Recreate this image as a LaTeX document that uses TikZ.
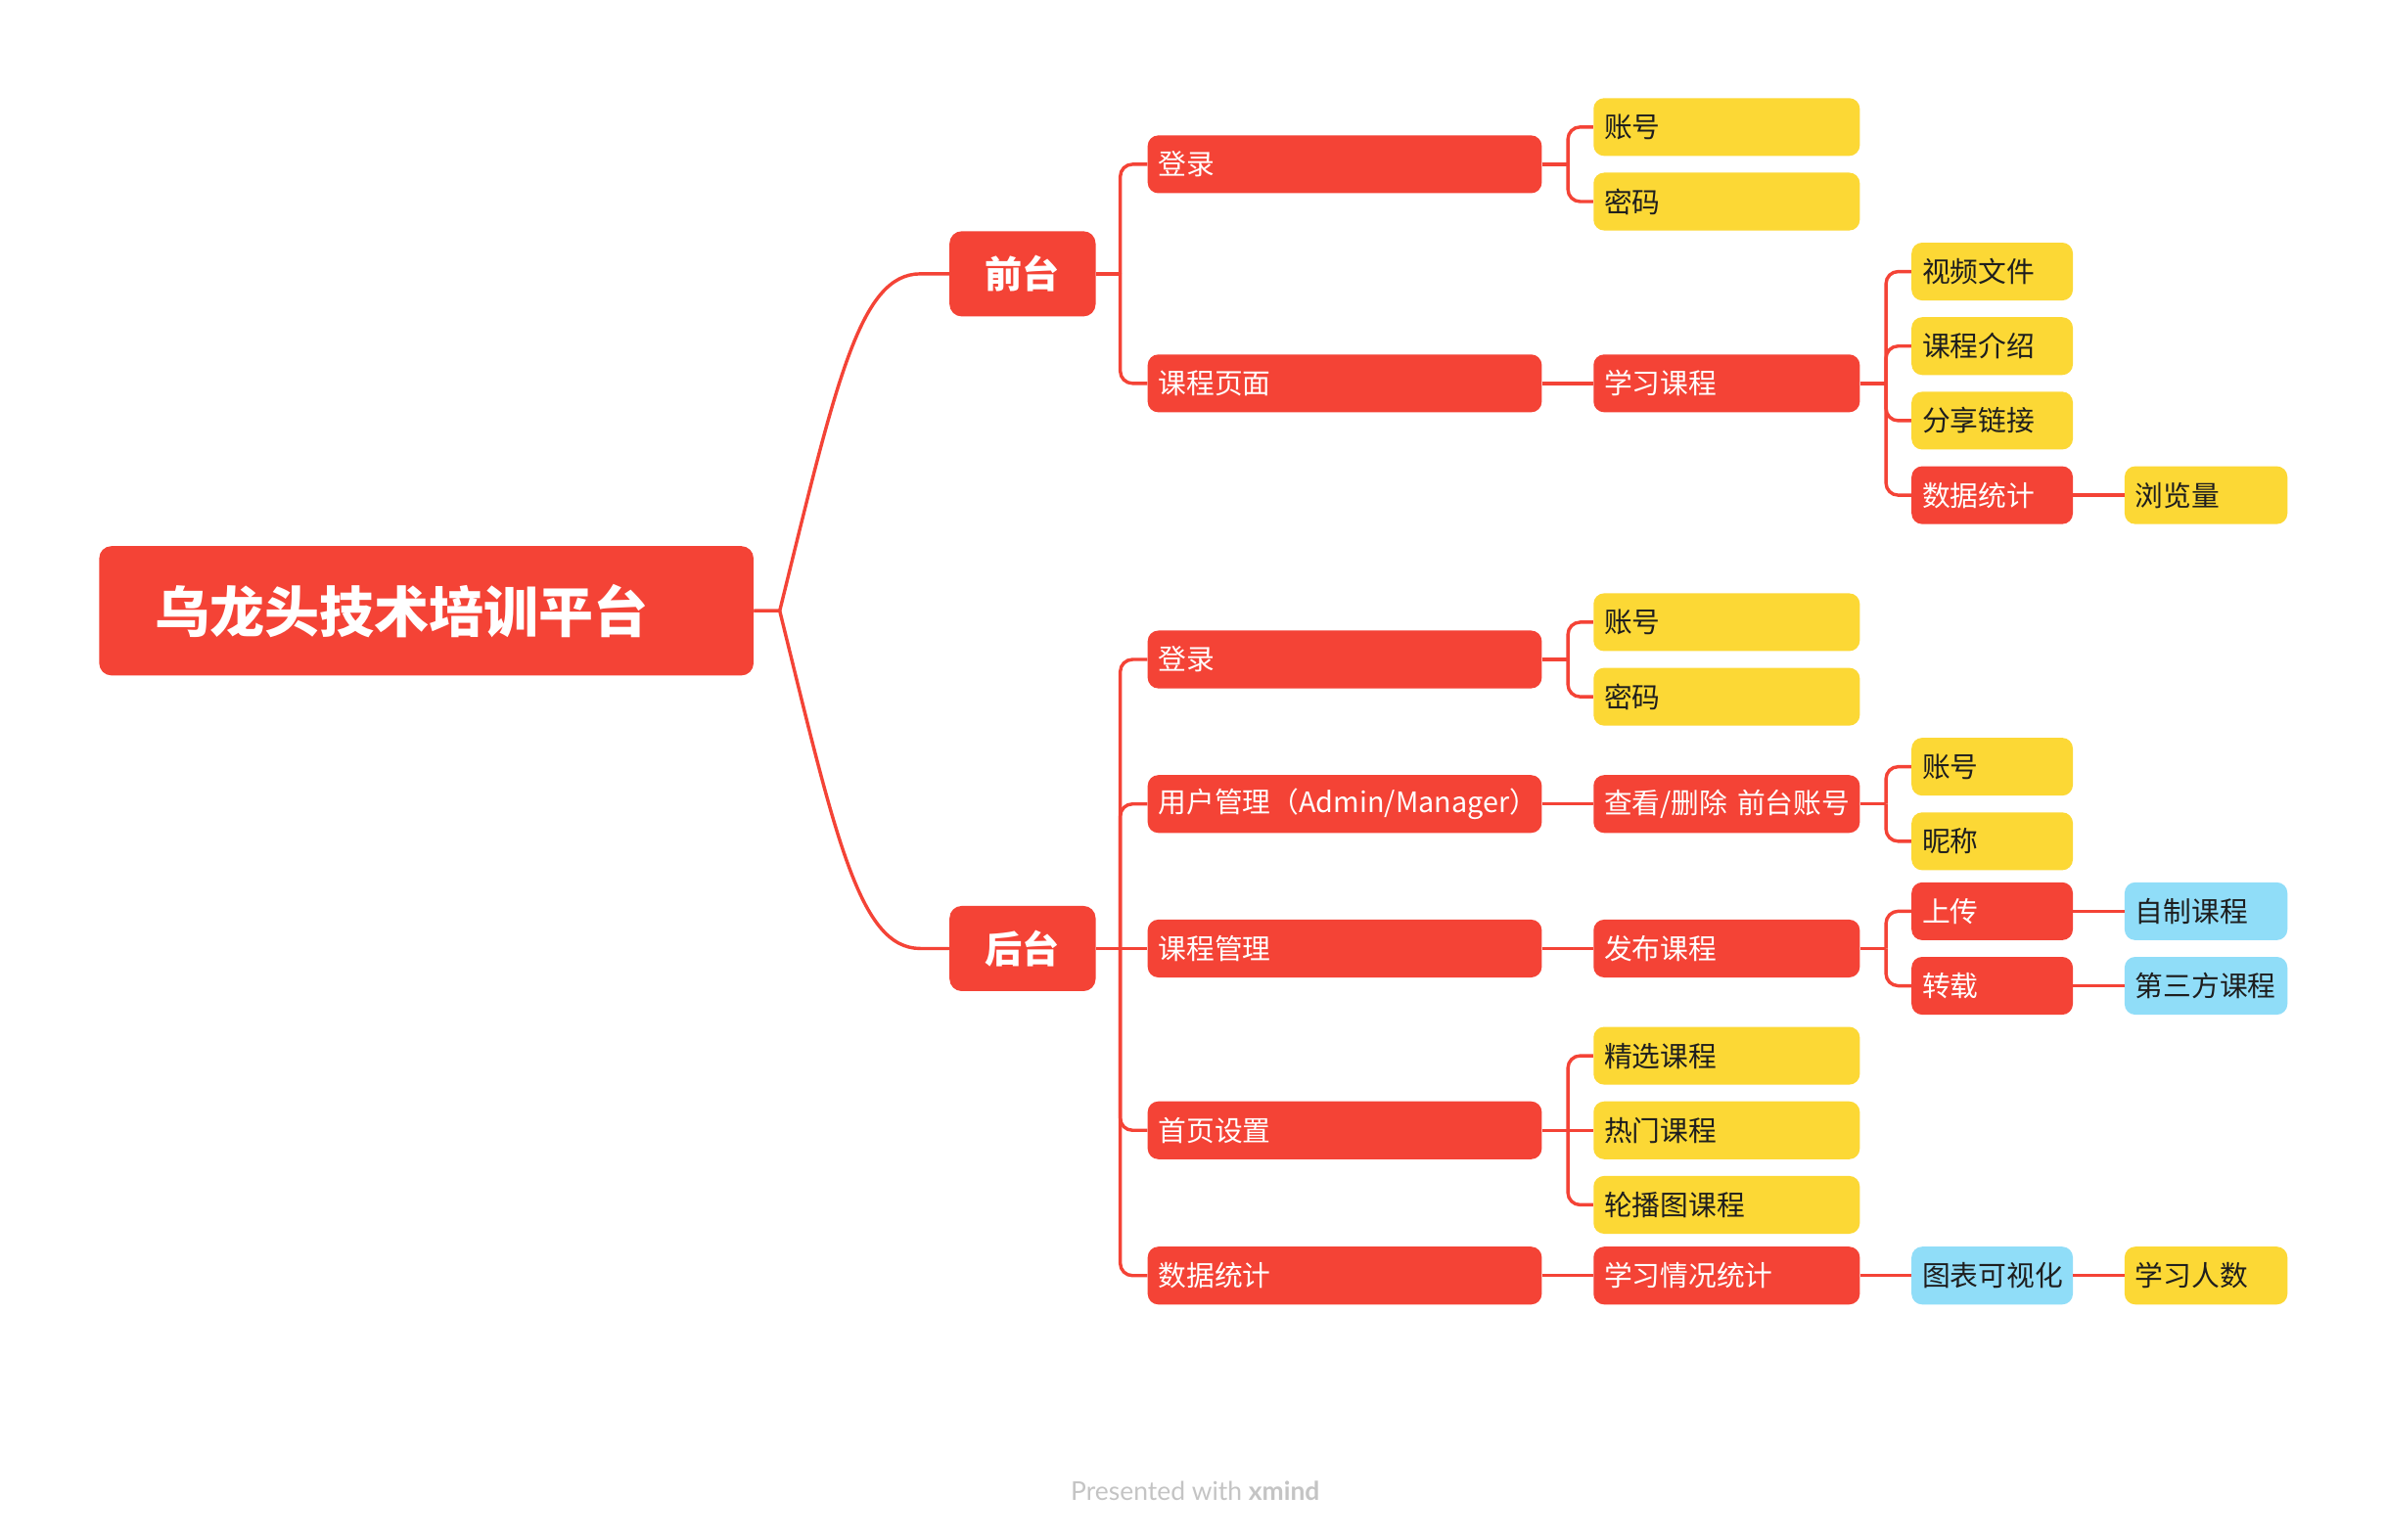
\documentclass[tikz,border=0pt]{standalone}
\usepackage{fontspec}
\setmainfont{Noto Sans CJK SC}
\newfontfamily\footfont{Lato}
\usetikzlibrary{calc}
\definecolor{xred}{HTML}{F44336}
\definecolor{xyellow}{HTML}{FCD835}
\definecolor{xblue}{HTML}{90DDF8}
\definecolor{xtext}{HTML}{1E1E1E}
\definecolor{xgrey}{HTML}{C4C4C4}
\tikzset{
  box/.style={rounded corners=7pt, minimum height=38pt, inner xsep=7pt, inner ysep=0pt,
    anchor=west, align=left, font=\fontsize{18.5}{22}\selectfont},
  redb/.style={box, fill=xred, text=white},
  yelb/.style={box, fill=xyellow, text=xtext},
  blub/.style={box, fill=xblue, text=xtext},
  wtwo/.style={text width=245pt},
  wthree/.style={text width=161pt},
  wfour/.style={text width=92pt},
  wfive/.style={text width=93pt},
  rootb/.style={rounded corners=8pt, fill=xred, text=white, minimum height=85pt,
    inner xsep=37pt, inner ysep=0pt, text width=356pt, align=left, anchor=west,
    font=\fontsize{36}{40}\selectfont\bfseries},
  lone/.style={rounded corners=8pt, fill=xred, text=white, minimum height=56pt,
    minimum width=96pt, inner sep=0pt, font=\fontsize{24.5}{28}\selectfont\bfseries},
  link/.style={draw=xred, line width=2.2pt},
  rc/.style={link, rounded corners=8pt},
}
\begin{document}
\begin{tikzpicture}[x=1pt,y=-1pt]
\fill[white] (0,0) rectangle (1568,1012);
\useasboundingbox (0,0) rectangle (1568,1012);

% root and level 1
\node[rootb] (root) at (65,401.5) {乌龙头技术培训平台};
\node[lone] (ft) at (672,180) {前台};
\node[lone] (bt) at (672,623.5) {后台};

% front
\node[redb,wtwo] (f1) at (754,108) {登录};
\node[yelb,wthree] (f1a) at (1047,83.5) {账号};
\node[yelb,wthree] (f1b) at (1047,132.5) {密码};
\node[redb,wtwo] (f2) at (754,252) {课程页面};
\node[redb,wthree] (f2a) at (1047,252) {学习课程};
\node[yelb,wfour] (f2a1) at (1256,178.5) {视频文件};
\node[yelb,wfour] (f2a2) at (1256,227.5) {课程介绍};
\node[yelb,wfour] (f2a3) at (1256,276.5) {分享链接};
\node[redb,wfour] (f2a4) at (1256,325.5) {数据统计};
\node[yelb,wfive] (f2a4a) at (1396,325.5) {浏览量};

% back
\node[redb,wtwo] (b1) at (754,433.5) {登录};
\node[yelb,wthree] (b1a) at (1047,409) {账号};
\node[yelb,wthree] (b1b) at (1047,458) {密码};
\node[redb,wtwo] (b2) at (754,528.5) {\mbox{用户管理（Admin/Manager）}};
\node[redb,wthree] (b2a) at (1047,528.5) {\mbox{查看/删除 前台账号}};
\node[yelb,wfour] (b2a1) at (1256,504) {账号};
\node[yelb,wfour] (b2a2) at (1256,553) {昵称};
\node[redb,wtwo] (b3) at (754,623.5) {课程管理};
\node[redb,wthree] (b3a) at (1047,623.5) {发布课程};
\node[redb,wfour] (b3a1) at (1256,599) {上传};
\node[redb,wfour] (b3a2) at (1256,648) {转载};
\node[blub,wfive] (b3a1a) at (1396,599) {自制课程};
\node[blub,wfive] (b3a2a) at (1396,648) {第三方课程};
\node[redb,wtwo] (b4) at (754,743) {首页设置};
\node[yelb,wthree] (b4a) at (1047,694) {精选课程};
\node[yelb,wthree] (b4b) at (1047,743) {热门课程};
\node[yelb,wthree] (b4c) at (1047,792) {轮播图课程};
\node[redb,wtwo] (b5) at (754,838.5) {数据统计};
\node[redb,wthree] (b5a) at (1047,838.5) {学习情况统计};
\node[blub,wfour] (b5a1) at (1256,838.5) {图表可视化};
\node[yelb,wfive] (b5a1a) at (1396,838.5) {学习人数};

% footer
\node[font=\footfont\fontsize{17}{20}\selectfont, text=xgrey] (foot) at (785.5,980) {Presented with \textbf{xmind}};

% root connectors
\coordinate (r0) at ($(root.east)+(17,0)$);
\draw[link] (root.east) -- (r0) .. controls +(37,-150) and +(-40,0) .. ($(ft.west)+(-19,0)$) -- (ft.west);
\draw[link] (root.east) -- (r0) .. controls +(37,150) and +(-40,0) .. ($(bt.west)+(-19,0)$) -- (bt.west);

% front spine
\coordinate (s0) at ($(ft.east)+(16,0)$);
\draw[link] (ft.east) -- (s0);
\draw[rc] (s0) |- (f1.west);
\draw[rc] (s0) |- (f2.west);

\coordinate (s1) at ($(f1.east)+(17,0)$);
\draw[link] (f1.east) -- (s1);
\draw[rc] (s1) |- (f1a.west);
\draw[rc] (s1) |- (f1b.west);

\draw[link] (f2.east) -- (f2a.west);
\coordinate (s2) at ($(f2a.east)+(17,0)$);
\draw[link] (f2a.east) -- (s2);
\draw[rc] (s2) |- (f2a1.west);
\draw[rc] (s2) |- (f2a2.west);
\draw[rc] (s2) |- (f2a3.west);
\draw[rc] (s2) |- (f2a4.west);
\draw[link] (f2a4.east) -- (f2a4a.west);

% back spine
\coordinate (t0) at ($(bt.east)+(16,0)$);
\draw[link] (bt.east) -- (t0);
\draw[rc] (t0) |- (b1.west);
\draw[rc] (t0) |- (b2.west);
\draw[link] (t0) -- (b3.west);
\draw[rc] (t0) |- (b4.west);
\draw[rc] (t0) |- (b5.west);

\coordinate (t1) at ($(b1.east)+(17,0)$);
\draw[link] (b1.east) -- (t1);
\draw[rc] (t1) |- (b1a.west);
\draw[rc] (t1) |- (b1b.west);

\draw[link] (b2.east) -- (b2a.west);
\coordinate (t2) at ($(b2a.east)+(17,0)$);
\draw[link] (b2a.east) -- (t2);
\draw[rc] (t2) |- (b2a1.west);
\draw[rc] (t2) |- (b2a2.west);

\draw[link] (b3.east) -- (b3a.west);
\coordinate (t3) at ($(b3a.east)+(17,0)$);
\draw[link] (b3a.east) -- (t3);
\draw[rc] (t3) |- (b3a1.west);
\draw[rc] (t3) |- (b3a2.west);
\draw[link] (b3a1.east) -- (b3a1a.west);
\draw[link] (b3a2.east) -- (b3a2a.west);

\coordinate (t4) at ($(b4.east)+(17,0)$);
\draw[link] (b4.east) -- (b4b.west);
\draw[rc] (t4) |- (b4a.west);
\draw[rc] (t4) |- (b4c.west);

\draw[link] (b5.east) -- (b5a.west);
\draw[link] (b5a.east) -- (b5a1.west);
\draw[link] (b5a1.east) -- (b5a1a.west);
\end{tikzpicture}
\end{document}
